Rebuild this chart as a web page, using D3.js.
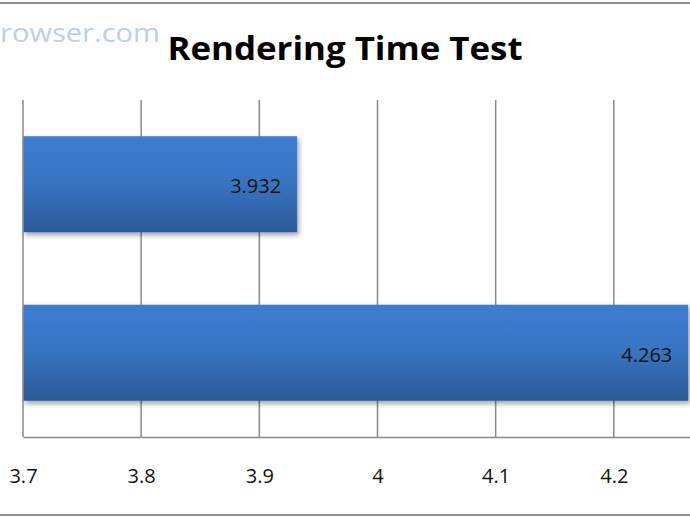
<!DOCTYPE html>
<html>
<head>
<meta charset="utf-8">
<script src="https://cdn.jsdelivr.net/npm/d3@7"></script>
<style>
  body { margin: 0; background: #fff; }
  svg { display: block; }
</style>
</head>
<body>
<div id="chart"></div>
<script>
// chart data
const categories = ['Browser B', 'Browser A'];
const values = [3.932, 4.263];
const tickValues = [3.7, 3.8, 3.9, 4.0, 4.1, 4.2];
const title = 'Rendering Time Test';
const watermark = 'rowser.com';

const width = 690, height = 518;
const margin = { top: 100, left: 23, bottom: 81 };
const plotRight = 732; // plot continues past the cropped right edge

const svg = d3.select('#chart').append('svg')
    .attr('width', width)
    .attr('height', height);

const defs = svg.append('defs');
const grad = defs.append('linearGradient')
    .attr('id', 'barGrad')
    .attr('x1', 0).attr('y1', 0).attr('x2', 0).attr('y2', 1);
grad.append('stop').attr('offset', '0%').attr('stop-color', '#3b7dd0');
grad.append('stop').attr('offset', '45%').attr('stop-color', '#3876c4');
grad.append('stop').attr('offset', '100%').attr('stop-color', '#2b5998');

const shadow = defs.append('filter').attr('id', 'shadow')
    .attr('x', '-5%').attr('y', '-10%').attr('width', '115%').attr('height', '140%');
shadow.append('feDropShadow')
    .attr('dx', 2).attr('dy', 3).attr('stdDeviation', 2.5)
    .attr('flood-color', '#000').attr('flood-opacity', 0.35);

// outer frame lines
svg.append('line').attr('x1', 0).attr('x2', width).attr('y1', 3).attr('y2', 3)
    .attr('stroke', '#8f8f8f').attr('stroke-width', 2);
svg.append('line').attr('x1', 0).attr('x2', width).attr('y1', 515).attr('y2', 515)
    .attr('stroke', '#8f8f8f').attr('stroke-width', 2);

// watermark at top left
svg.append('text')
    .attr('x', 0).attr('y', 42)
    .attr('font-family', 'Open Sans, sans-serif')
    .attr('font-size', 26)
    .attr('textLength', 160)
    .attr('lengthAdjust', 'spacingAndGlyphs')
    .attr('fill', '#bccfe6')
    .text(watermark);

svg.append('text')
    .attr('x', 345).attr('y', 60)
    .attr('text-anchor', 'middle')
    .attr('font-family', 'Open Sans, sans-serif')
    .attr('font-weight', 'bold')
    .attr('font-size', 32)
    .attr('textLength', 355)
    .attr('lengthAdjust', 'spacingAndGlyphs')
    .attr('fill', '#000')
    .text(title);

const x = d3.scaleLinear()
    .domain([3.7, 4.3])
    .range([margin.left, plotRight]);

const y = d3.scaleBand()
    .domain(categories)
    .range([margin.top, height - margin.bottom])
    .paddingInner(0.43)
    .paddingOuter(0.215);

// gridlines
svg.append('g')
    .selectAll('line')
    .data(tickValues.slice(1))
    .join('line')
    .attr('x1', d => x(d)).attr('x2', d => x(d))
    .attr('y1', margin.top).attr('y2', height - margin.bottom)
    .attr('stroke', '#8a8a8a').attr('stroke-width', 1.5);

// bars
svg.append('g')
    .selectAll('rect')
    .data(values)
    .join('rect')
    .attr('x', x(3.7))
    .attr('y', (d, i) => y(categories[i]))
    .attr('width', d => x(d) - x(3.7))
    .attr('height', y.bandwidth())
    .attr('fill', 'url(#barGrad)')
    .attr('filter', 'url(#shadow)');

// value labels
svg.append('g')
    .selectAll('text')
    .data(values)
    .join('text')
    .attr('x', d => x(d) - 16)
    .attr('y', (d, i) => y(categories[i]) + y.bandwidth() / 2 + 9)
    .attr('text-anchor', 'end')
    .attr('font-family', 'Open Sans, sans-serif')
    .attr('font-size', 20)
    .attr('fill', '#111')
    .text(d => d3.format('.3f')(d));

// axes
const xAxis = d3.axisBottom(x)
    .tickValues(tickValues)
    .tickSize(0)
    .tickFormat(d => d3.format('~g')(d));

const xAxisG = svg.append('g')
    .attr('transform', `translate(0, ${height - margin.bottom})`)
    .call(xAxis);
xAxisG.select('.domain')
    .attr('stroke', '#8a8a8a').attr('stroke-width', 1.5);
xAxisG.selectAll('text')
    .attr('dy', 0)
    .attr('y', 46)
    .attr('font-family', 'Open Sans, sans-serif')
    .attr('font-size', 20)
    .attr('fill', '#111');

svg.append('line')
    .attr('x1', margin.left).attr('x2', margin.left)
    .attr('y1', margin.top).attr('y2', height - margin.bottom)
    .attr('stroke', '#8a8a8a').attr('stroke-width', 1.5);
</script>
</body>
</html>
